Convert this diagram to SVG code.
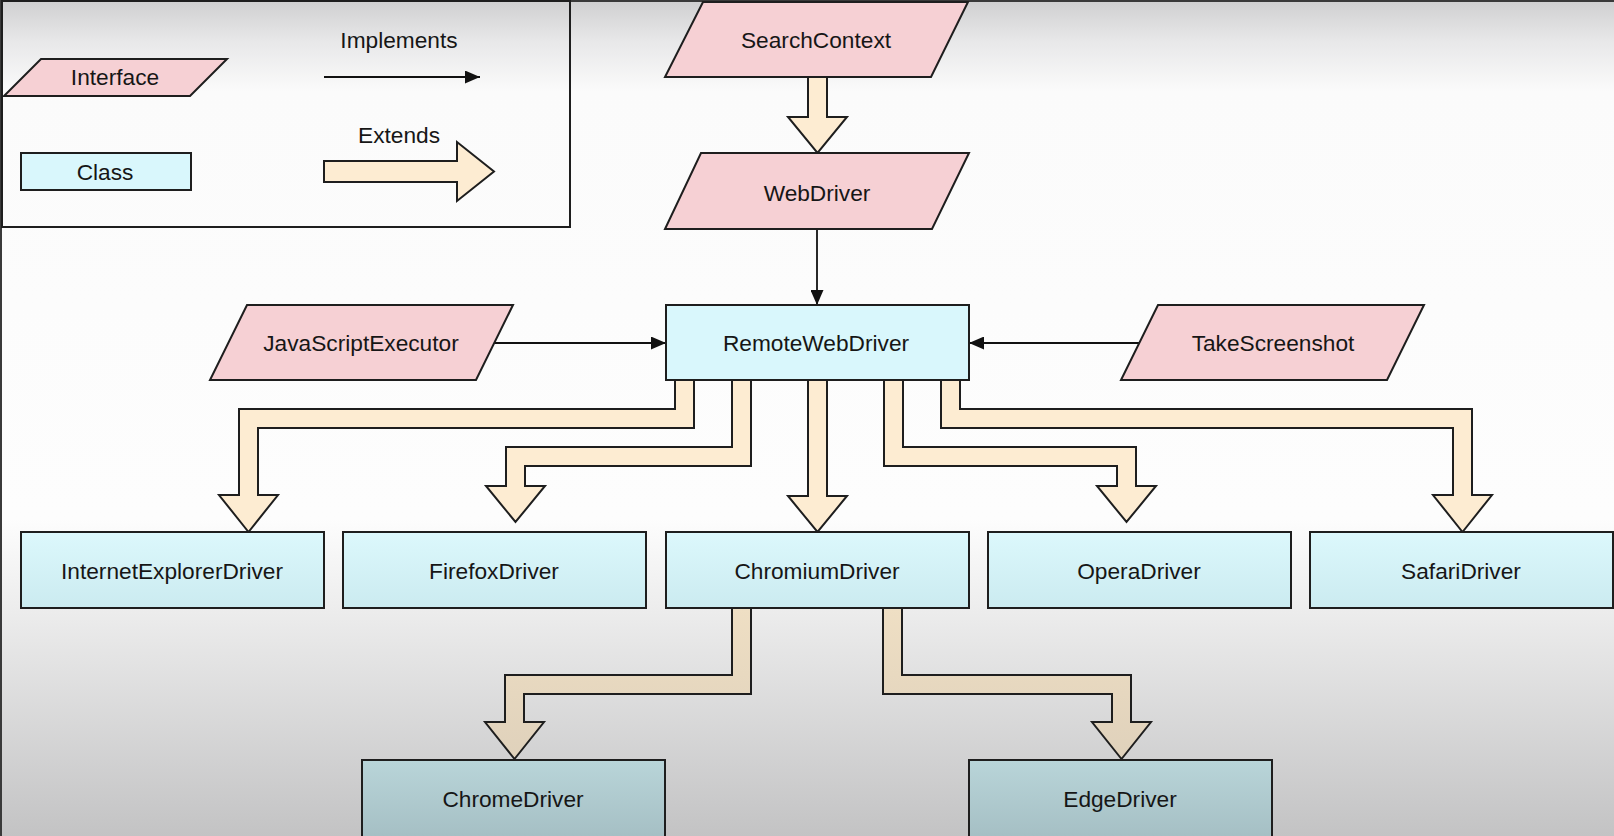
<svg xmlns="http://www.w3.org/2000/svg" width="1614" height="836" viewBox="0 0 1614 836">
<defs>
<linearGradient id="bg" x1="0" y1="0" x2="0" y2="836" gradientUnits="userSpaceOnUse">
<stop offset="0" stop-color="#cfcfd0"/>
<stop offset="0.05" stop-color="#e8e8e9"/>
<stop offset="0.11" stop-color="#fbfbfb"/>
<stop offset="0.62" stop-color="#fdfdfd"/>
<stop offset="0.72" stop-color="#eeeeee"/>
<stop offset="1" stop-color="#c3c3c4"/>
</linearGradient>
<linearGradient id="rowCyan" x1="0" y1="0" x2="0" y2="1">
<stop offset="0" stop-color="#dcf8fc"/>
<stop offset="1" stop-color="#cbebf0"/>
</linearGradient>
<linearGradient id="rowTeal" x1="0" y1="0" x2="0" y2="1">
<stop offset="0" stop-color="#b9d5d9"/>
<stop offset="1" stop-color="#a5bfc4"/>
</linearGradient>
<linearGradient id="tan" x1="0" y1="608" x2="0" y2="760" gradientUnits="userSpaceOnUse">
<stop offset="0" stop-color="#efdfc4"/>
<stop offset="1" stop-color="#dfd1bb"/>
</linearGradient>
<marker id="ah" markerWidth="15" markerHeight="13" refX="15" refY="6.5" orient="auto" markerUnits="userSpaceOnUse">
<path d="M0,0 L15,6.5 L0,13 z" fill="#111"/>
</marker>
<style>
.iface{fill:#f6d0d4;stroke:#1e1e1e;stroke-width:2;}
.cls{fill:#d9f7fc;stroke:#1e1e1e;stroke-width:2;}
.row{fill:url(#rowCyan);stroke:#1e1e1e;stroke-width:2;}
.row2{fill:url(#rowTeal);stroke:#1e1e1e;stroke-width:2;}
.ext{fill:#fdecd2;stroke:#1e1e1e;stroke-width:2;stroke-linejoin:miter;}
.ext2{fill:url(#tan);stroke:#1e1e1e;stroke-width:2;stroke-linejoin:miter;}
.impl{fill:none;stroke:#111;stroke-width:1.8;marker-end:url(#ah);}
text{font-family:"Liberation Sans",Arial,Helvetica,sans-serif;font-size:22.7px;fill:#161616;text-anchor:middle;}
</style>
</defs>
<rect x="0" y="0" width="1614" height="836" fill="url(#bg)"/>
<path d="M0,1 H1614 M1,0 V836" stroke="#3a3a3a" stroke-width="2" fill="none"/>

<g id="legend">
<rect x="2" y="1" width="568" height="226" fill="none" stroke="#1e1e1e" stroke-width="2"/>
<polygon class="iface" points="41,59 227,59 190,96 4,96"/>
<text x="115" y="85">Interface</text>
<rect class="cls" x="21" y="153" width="170" height="37"/>
<text x="105" y="180">Class</text>
<text x="399" y="48">Implements</text>
<line class="impl" x1="324" y1="77" x2="480" y2="77"/>
<text x="399" y="143">Extends</text>
<polygon class="ext" points="324,161 457,161 457,142 494,171.5 457,201 457,182 324,182"/>
</g>

<g id="connectors">
<polygon class="ext" points="808,77 808,117 788,117 817.5,153 847,117 827,117 827,77"/>
<line class="impl" x1="817" y1="229" x2="817" y2="305"/>
<line class="impl" x1="494" y1="343" x2="666" y2="343"/>
<line class="impl" x1="1139" y1="343" x2="969" y2="343"/>
<polygon class="ext" points="675,380 675,409 239,409 239,495 219,495 248.5,532 278,495 258,495 258,428 694,428 694,380"/>
<polygon class="ext" points="732,380 732,447 506,447 506,486 486,486 515.5,522 545,486 525,486 525,466 751,466 751,380"/>
<polygon class="ext" points="808,380 808,496 788,496 817.5,532 847,496 827,496 827,380"/>
<polygon class="ext" points="884,380 884,466 1117,466 1117,486 1097,486 1126.5,522 1156,486 1136,486 1136,447 903,447 903,380"/>
<polygon class="ext" points="941,380 941,428 1453,428 1453,495 1433,495 1462.5,532 1492,495 1472,495 1472,409 960,409 960,380"/>
<polygon class="ext2" points="732,608 732,675 505,675 505,722 485,722 514.5,759 544,722 524,722 524,694 751,694 751,608"/>
<polygon class="ext2" points="883,608 883,694 1112,694 1112,722 1092,722 1121.5,759 1151,722 1131,722 1131,675 902,675 902,608"/>
</g>

<g id="SearchContext">
<polygon class="iface" points="703,2 968,2 931,77 665,77"/>
<text x="816" y="48">SearchContext</text>
</g>
<g id="WebDriver">
<polygon class="iface" points="701,153 969,153 932,229 665,229"/>
<text x="817" y="201">WebDriver</text>
</g>
<g id="RemoteWebDriver">
<rect class="cls" x="666" y="305" width="303" height="75"/>
<text x="816" y="351">RemoteWebDriver</text>
</g>
<g id="JavaScriptExecutor">
<polygon class="iface" points="247,305 513,305 476,380 210,380"/>
<text x="361" y="351">JavaScriptExecutor</text>
</g>
<g id="TakeScreenshot">
<polygon class="iface" points="1158,305 1424,305 1387,380 1121,380"/>
<text x="1273" y="351">TakeScreenshot</text>
</g>
<g id="InternetExplorerDriver">
<rect class="row" x="21" y="532" width="303" height="76"/>
<text x="172" y="579">InternetExplorerDriver</text>
</g>
<g id="FirefoxDriver">
<rect class="row" x="343" y="532" width="303" height="76"/>
<text x="494" y="579">FirefoxDriver</text>
</g>
<g id="ChromiumDriver">
<rect class="row" x="666" y="532" width="303" height="76"/>
<text x="817" y="579">ChromiumDriver</text>
</g>
<g id="OperaDriver">
<rect class="row" x="988" y="532" width="303" height="76"/>
<text x="1139" y="579">OperaDriver</text>
</g>
<g id="SafariDriver">
<rect class="row" x="1310" y="532" width="303" height="76"/>
<text x="1461" y="579">SafariDriver</text>
</g>
<g id="ChromeDriver">
<rect class="row2" x="362" y="760" width="303" height="78"/>
<text x="513" y="807">ChromeDriver</text>
</g>
<g id="EdgeDriver">
<rect class="row2" x="969" y="760" width="303" height="78"/>
<text x="1120" y="807">EdgeDriver</text>
</g>
</svg>
